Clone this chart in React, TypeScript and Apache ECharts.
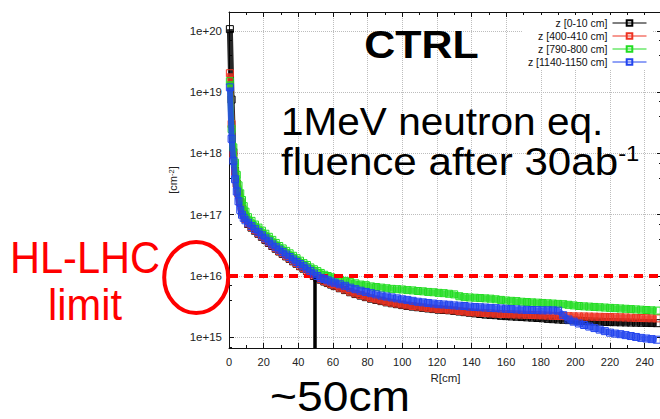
import React, { useEffect, useRef } from 'react';
import * as echarts from 'echarts';

// Radius bin centres [cm]
const R_CM = [
  0.5, 1.5, 2.5, 3.5, 4.5, 5.5, 6.5, 7.5, 8.5, 9.5,
  11, 13, 15, 17, 19, 21, 23, 25, 27, 29, 31, 33, 35, 37, 39, 41, 43, 45, 47, 49, 51, 53, 55, 57, 59, 61,
  64, 67, 70, 73, 76, 79, 82, 85, 88, 91, 94, 97, 100, 103, 106, 109, 112, 115, 118, 121, 124, 127, 130,
  133, 136, 139, 142, 145, 148, 151, 154, 157, 160, 163, 166, 169, 172, 175, 178, 181, 184, 187, 190,
  193, 196, 199, 202, 205, 208, 211, 214, 217, 220, 223, 226, 229, 232, 235, 238, 241, 244, 247,
];

// log10 of the 1 MeV neutron-equivalent fluence [cm^-2]
const LOG_Z_0_10 = [
  20.03, 18.88, 18.02, 17.72, 17.51, 17.35, 17.21, 17.10, 17.01, 16.94,
  16.85, 16.79, 16.74, 16.69, 16.64, 16.59, 16.54, 16.49, 16.445, 16.40, 16.36, 16.32, 16.28, 16.24, 16.20, 16.16,
  16.12, 16.08, 16.04, 16.00, 15.97, 15.94, 15.91, 15.885, 15.86, 15.835,
  15.80, 15.77, 15.735, 15.705, 15.68, 15.655, 15.63, 15.61, 15.59, 15.57, 15.555, 15.54, 15.525, 15.51, 15.50,
  15.49, 15.48, 15.47, 15.46, 15.45, 15.445, 15.44, 15.43,
  15.42, 15.41, 15.40, 15.39, 15.38, 15.37, 15.365, 15.36, 15.35, 15.345, 15.34, 15.335, 15.33, 15.325, 15.32,
  15.315, 15.31, 15.30, 15.295, 15.29, 15.285, 15.28, 15.275, 15.27, 15.265, 15.26, 15.257, 15.254, 15.25,
  15.248, 15.246, 15.244, 15.242, 15.24, 15.238, 15.236, 15.234, 15.232, 15.23,
];
const LOG_Z_400_410 = [
  19.31, 18.48, 17.98, 17.70, 17.50, 17.34, 17.20, 17.09, 17.00, 16.93,
  16.86, 16.80, 16.75, 16.70, 16.65, 16.60, 16.55, 16.50, 16.455, 16.41, 16.37, 16.33, 16.29, 16.25, 16.21, 16.17,
  16.13, 16.09, 16.05, 16.01, 15.98, 15.95, 15.92, 15.895, 15.87, 15.845,
  15.81, 15.78, 15.745, 15.715, 15.69, 15.665, 15.64, 15.62, 15.60, 15.58, 15.565, 15.55, 15.535, 15.52, 15.51,
  15.50, 15.49, 15.48, 15.47, 15.46, 15.455, 15.45, 15.44,
  15.43, 15.42, 15.41, 15.405, 15.40, 15.395, 15.39, 15.385, 15.38, 15.378, 15.375, 15.372, 15.37, 15.367, 15.364,
  15.36, 15.357, 15.354, 15.35, 15.348, 15.346, 15.344, 15.342, 15.34, 15.34, 15.338, 15.336, 15.334, 15.332,
  15.33, 15.328, 15.326, 15.323, 15.32, 15.317, 15.314, 15.312, 15.31, 15.308,
];
const LOG_Z_790_800 = [
  19.18, 18.40, 18.10, 17.85, 17.65, 17.48, 17.35, 17.24, 17.14, 17.05,
  16.96, 16.90, 16.84, 16.79, 16.74, 16.69, 16.64, 16.59, 16.54, 16.49, 16.45, 16.41, 16.37, 16.33, 16.29, 16.25,
  16.21, 16.18, 16.14, 16.11, 16.08, 16.05, 16.02, 16.00, 15.98, 15.96,
  15.94, 15.92, 15.90, 15.88, 15.86, 15.85, 15.83, 15.82, 15.81, 15.80, 15.79, 15.785, 15.78, 15.77, 15.765,
  15.755, 15.75, 15.74, 15.735, 15.725, 15.72, 15.71, 15.70,
  15.67, 15.655, 15.65, 15.645, 15.64, 15.635, 15.63, 15.62, 15.61, 15.60, 15.595, 15.59, 15.58, 15.575, 15.57,
  15.565, 15.56, 15.555, 15.55, 15.545, 15.54, 15.53, 15.52, 15.51, 15.505, 15.50, 15.495, 15.49, 15.485,
  15.48, 15.475, 15.47, 15.465, 15.46, 15.455, 15.45, 15.445, 15.44, 15.435,
];
const LOG_Z_1140_1150 = [
  19.08, 18.24, 17.88, 17.58, 17.38, 17.22, 17.08, 17.00, 16.95, 16.91,
  16.87, 16.815, 16.765, 16.715, 16.665, 16.615, 16.565, 16.515, 16.47, 16.43, 16.39, 16.35, 16.31, 16.27, 16.23, 16.195,
  16.16, 16.12, 16.08, 16.04, 16.00, 15.97, 15.95, 15.93, 15.91, 15.89,
  15.865, 15.84, 15.81, 15.785, 15.76, 15.74, 15.72, 15.70, 15.68, 15.665, 15.65, 15.635, 15.62, 15.61, 15.595,
  15.58, 15.57, 15.56, 15.55, 15.54, 15.535, 15.53, 15.52,
  15.515, 15.51, 15.50, 15.495, 15.49, 15.485, 15.48, 15.475, 15.47, 15.465, 15.46, 15.455, 15.45, 15.447, 15.445,
  15.443, 15.44, 15.44, 15.44, 15.435, 15.36, 15.29, 15.255, 15.225, 15.20, 15.175, 15.15, 15.125, 15.10,
  15.075, 15.06, 15.05, 15.035, 15.02, 15.005, 14.99, 14.98, 14.97, 14.96,
];

const SERIES_NAMES = ['z [0-10 cm]', 'z [400-410 cm]', 'z [790-800 cm]', 'z [1140-1150 cm]'];
const SERIES_LOGS = [LOG_Z_0_10, LOG_Z_400_410, LOG_Z_790_800, LOG_Z_1140_1150];
const SERIES_COLORS = ['#000000', '#ee3322', '#22dd22', '#2244ee'];

const X_MIN = 0;
const X_MAX = 250;
const X_INTERVAL = 20;
const Y_MIN = 6.68e14;
const Y_MAX = 2.04e20;
const HL_LHC_LIMIT = 1e16;
const CROSS_R = 49.5;

const FONT = "'Liberation Sans', Arial, Helvetica, sans-serif";

export default function App() {
  const ref = useRef<HTMLDivElement>(null);

  useEffect(() => {
    if (!ref.current) return;
    const chart = echarts.init(ref.current, undefined, { renderer: 'svg' });

    const axisLine = { color: '#111', width: 1 };
    const tickCommon = { show: true, inside: true, length: 5, lineStyle: axisLine };
    const minorCommon = { show: true, length: 3, lineStyle: axisLine };
    const gridLine = { show: true, lineStyle: { color: '#bdbdbd', type: 'dotted', width: 1 } };

    const dataSeries = SERIES_NAMES.map((name, i) => ({
      type: 'line',
      name,
      data: R_CM.map((r, j) => [r, Math.pow(10, SERIES_LOGS[i][j])]),
      symbol: 'rect',
      symbolSize: 7,
      showSymbol: true,
      itemStyle: { color: 'rgba(255,255,255,0)', borderColor: SERIES_COLORS[i], borderWidth: 1 },
      lineStyle: { color: SERIES_COLORS[i], width: 6, opacity: 0.85 },
      emphasis: { disabled: true },
      silent: true,
      z: 2 + i,
    }));

    const option: any = {
      animation: false,
      backgroundColor: '#fff',
      grid: { left: 229, right: -2, top: 12, bottom: 71, outerBoundsMode: 'none' },
      legend: {
        data: SERIES_NAMES,
        orient: 'vertical',
        right: 7,
        top: 15,
        align: 'right',
        itemWidth: 34,
        itemHeight: 7,
        itemGap: 1,
        padding: [2, 6],
        backgroundColor: '#fff',
        selectedMode: false,
        textStyle: { fontSize: 10.5, fontFamily: FONT, color: '#111', lineHeight: 12 },
        lineStyle: { width: 1, opacity: 1 },
        itemStyle: { opacity: 1 },
      },
      xAxis: [
        {
          type: 'value',
          min: X_MIN,
          max: X_MAX,
          interval: X_INTERVAL,
          position: 'bottom',
          axisLine: { show: true, onZero: false, lineStyle: axisLine },
          axisTick: tickCommon,
          minorTick: { ...minorCommon, splitNumber: 2 },
          axisLabel: { margin: 8, fontSize: 11, fontFamily: FONT, color: '#222', showMaxLabel: false },
          splitLine: gridLine,
          name: 'R[cm]',
          nameLocation: 'middle',
          nameGap: 21,
          nameTextStyle: { fontSize: 11.5, fontFamily: FONT, color: '#222' },
        },
        {
          type: 'value',
          min: X_MIN,
          max: X_MAX,
          interval: X_INTERVAL,
          position: 'top',
          axisLine: { show: true, onZero: false, lineStyle: axisLine },
          axisTick: tickCommon,
          minorTick: { ...minorCommon, splitNumber: 2 },
          axisLabel: { show: false },
          splitLine: { show: false },
        },
      ],
      yAxis: [
        {
          type: 'log',
          logBase: 10,
          min: Y_MIN,
          max: Y_MAX,
          position: 'left',
          axisLine: { show: true, onZero: false, lineStyle: axisLine },
          axisTick: tickCommon,
          minorTick: { ...minorCommon, splitNumber: 3 },
          axisLabel: {
            margin: 7,
            fontSize: 11.5,
            fontFamily: FONT,
            color: '#222',
            showMinLabel: false,
            showMaxLabel: false,
            formatter: (v: number) => '1e+' + Math.round(Math.log10(v)),
          },
          splitLine: gridLine,
          name: '[cm{sup|-2}]',
          nameLocation: 'middle',
          nameGap: 46,
          nameTextStyle: {
            fontSize: 11,
            fontFamily: FONT,
            color: '#222',
            rich: { sup: { fontSize: 7.5, fontFamily: FONT, color: '#222', verticalAlign: 'top' } },
          },
        },
        {
          type: 'log',
          logBase: 10,
          min: Y_MIN,
          max: Y_MAX,
          position: 'right',
          axisLine: { show: true, onZero: false, lineStyle: axisLine },
          axisTick: tickCommon,
          minorTick: { ...minorCommon, splitNumber: 3 },
          axisLabel: { show: false },
          splitLine: { show: false },
        },
      ],
      series: [
        ...dataSeries,
        {
          type: 'line',
          name: 'limit',
          data: [],
          silent: true,
          z: 10,
          markLine: {
            silent: true,
            symbol: ['none', 'none'],
            label: { show: false },
            emphasis: { disabled: true },
            data: [
              { yAxis: HL_LHC_LIMIT, lineStyle: { color: '#ff0000', width: 4, type: [9, 6] } },
              [
                { coord: [CROSS_R, HL_LHC_LIMIT], lineStyle: { color: '#000', width: 3.5, type: 'solid' } },
                { coord: [CROSS_R, Y_MIN] },
              ],
            ],
          },
        },
      ],
      graphic: [
        {
          type: 'text', x: 421.5, y: 44.6, scaleX: 1.1, z: 100,
          style: {
            text: 'CTRL', fontSize: 39, fontWeight: 'bold', fontFamily: FONT, fill: '#000',
            textAlign: 'center', align: 'center', textVerticalAlign: 'middle', verticalAlign: 'middle',
          },
        },
        {
          type: 'text', x: 281, y: 121, scaleX: 1.04, z: 100,
          style: {
            text: '1MeV neutron eq.', fontSize: 39, fontFamily: FONT, fill: '#000',
            textAlign: 'left', align: 'left', textVerticalAlign: 'middle', verticalAlign: 'middle',
          },
        },
        {
          type: 'text', x: 281, y: 161.5, scaleX: 1.08, z: 100,
          style: {
            text: '{m|fluence after 30ab}{s|-1}', fontSize: 39, fontFamily: FONT, fill: '#000',
            textAlign: 'left', align: 'left', textVerticalAlign: 'middle', verticalAlign: 'middle',
            rich: {
              m: { fontSize: 39, fontFamily: FONT, fill: '#000', color: '#000' },
              s: { fontSize: 22, fontFamily: FONT, fill: '#000', color: '#000', verticalAlign: 'top' },
            },
          },
        },
        {
          type: 'text', x: 85, y: 258, scaleX: 0.945, z: 100,
          style: {
            text: 'HL-LHC', fontSize: 44, fontFamily: FONT, fill: '#ff0000',
            textAlign: 'center', align: 'center', textVerticalAlign: 'middle', verticalAlign: 'middle',
          },
        },
        {
          type: 'text', x: 85, y: 305, scaleX: 0.945, z: 100,
          style: {
            text: 'limit', fontSize: 44, fontFamily: FONT, fill: '#ff0000',
            textAlign: 'center', align: 'center', textVerticalAlign: 'middle', verticalAlign: 'middle',
          },
        },
        {
          type: 'text', x: 340, y: 396, scaleX: 1.1, z: 100,
          style: {
            text: '~50cm', fontSize: 42, fontFamily: FONT, fill: '#000',
            textAlign: 'center', align: 'center', textVerticalAlign: 'middle', verticalAlign: 'middle',
          },
        },
        {
          type: 'ellipse', z: 100,
          shape: { cx: 196.2, cy: 277.5, rx: 32, ry: 35.5 },
          style: { fill: 'none', stroke: '#ff0000', lineWidth: 4 },
        },
      ],
    };

    chart.setOption(option);
    return () => chart.dispose();
  }, []);

  return (
    <div
      ref={ref}
      style={{ position: 'fixed', left: 0, top: 0, width: 660, height: 419, background: '#fff' }}
    />
  );
}
